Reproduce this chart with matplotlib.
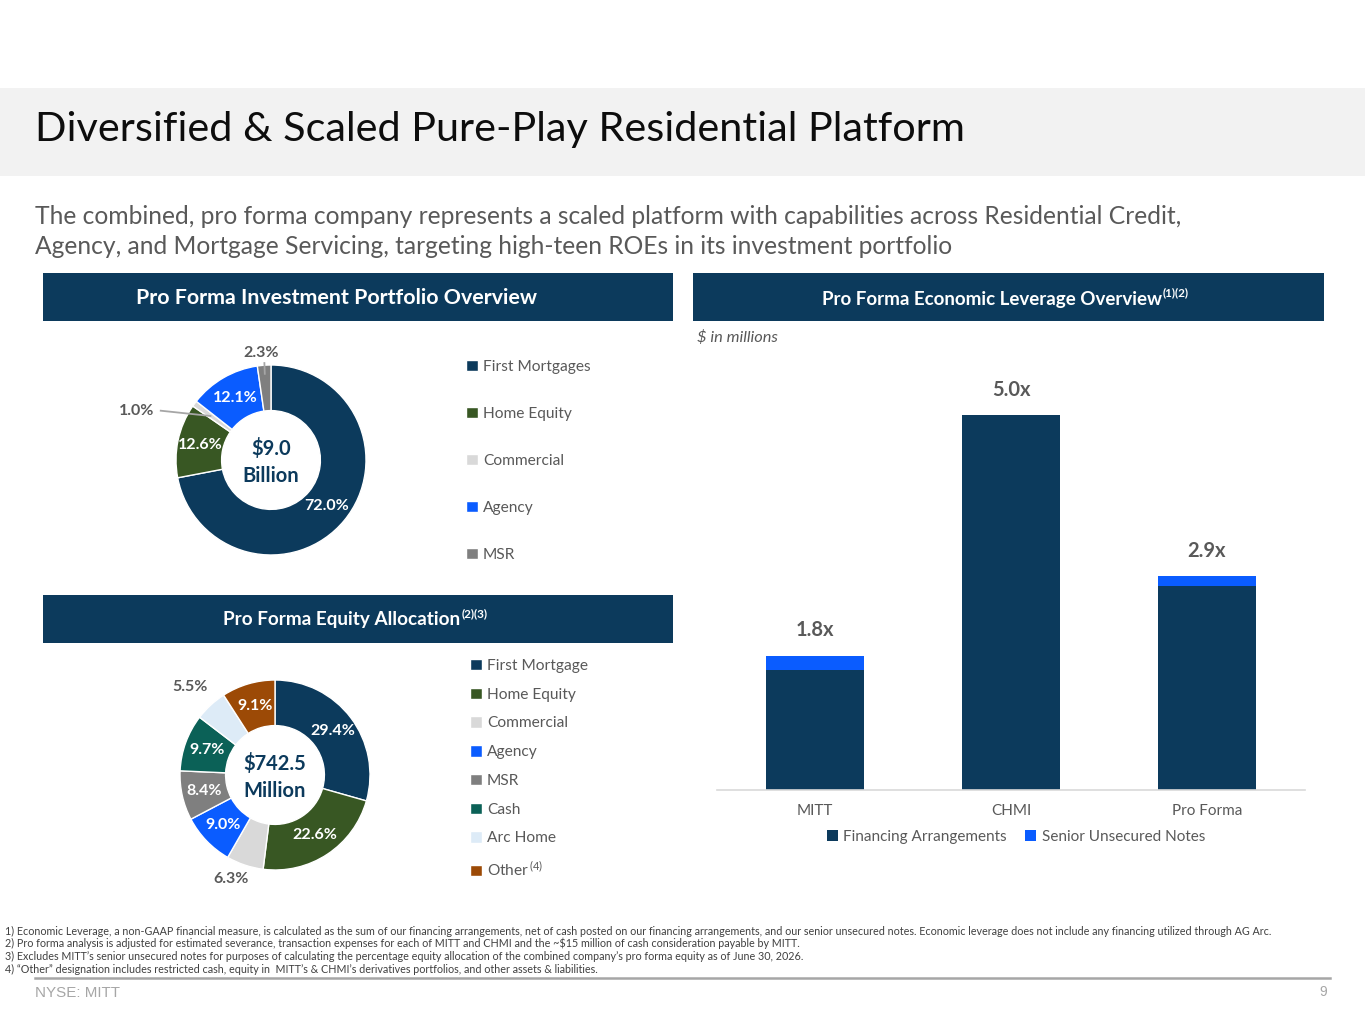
import matplotlib
matplotlib.use('Agg')
import matplotlib.pyplot as plt
from matplotlib.patches import Rectangle
from matplotlib.lines import Line2D
import numpy as np

plt.rcParams['font.family'] = ['Lato', 'DejaVu Sans']
plt.rcParams['mathtext.fontset'] = 'custom'
plt.rcParams['mathtext.rm'] = 'Lato'
plt.rcParams['mathtext.bf'] = 'Lato:bold'
plt.rcParams['mathtext.it'] = 'Lato:italic'

# ---------------- data ----------------
port_cats = ['First Mortgages', 'Home Equity', 'Commercial', 'Agency', 'MSR']
port_vals = [72.0, 12.6, 1.0, 12.1, 2.3]
port_total = '$9.0\nBillion'

eq_cats = ['First Mortgage', 'Home Equity', 'Commercial', 'Agency', 'MSR',
           'Cash', 'Arc Home', 'Other$\\,^{(4)}$']
eq_vals = [29.4, 22.6, 6.3, 9.0, 8.4, 9.7, 5.5, 9.1]
eq_total = '$742.5\nMillion'

lev_cats = ['MITT', 'CHMI', 'Pro Forma']
lev_fin = [1.60, 5.00, 2.72]
lev_notes = [0.19, 0.00, 0.13]
lev_labels = ['1.8x', '5.0x', '2.9x']
lev_series = ['Financing Arrangements', 'Senior Unsecured Notes']

footnotes = [
    "1) Economic Leverage, a non-GAAP financial measure, is calculated as the sum of our financing arrangements, net of cash posted on our financing arrangements, and our senior unsecured notes. Economic leverage does not include any financing utilized through AG Arc.",
    "2) Pro forma analysis is adjusted for estimated severance, transaction expenses for each of MITT and CHMI and the ~$15 million of cash consideration payable by MITT.",
    "3) Excludes MITT\u2019s senior unsecured notes for purposes of calculating the percentage equity allocation of the combined company\u2019s pro forma equity as of June 30, 2026.",
    "4) \u201cOther\u201d designation includes restricted cash, equity in  MITT\u2019s & CHMI\u2019s derivatives portfolios, and other assets & liabilities.",
]

# ---------------- styles ----------------
NAVY = '#0C3A5C'
GREEN = '#385723'
LGRAY = '#D9D9D9'
BLUE = '#0A5CFF'
MGRAY = '#7F7F7F'
TEAL = '#0B6157'
LBLUE = '#DDEBF7'
BROWN = '#9C4A06'
TXT = '#595959'

port_colors = [NAVY, GREEN, LGRAY, BLUE, MGRAY]
eq_colors = [NAVY, GREEN, LGRAY, BLUE, MGRAY, TEAL, LBLUE, BROWN]

W, H = 1365, 1024
fig = plt.figure(figsize=(W / 100, H / 100), dpi=100)
fig.patch.set_facecolor('white')
REND = fig.canvas.get_renderer()


def fx(x):
    return x / W


def fy(y):
    return 1 - y / H


def rect(x0, y0, x1, y1, color):
    fig.patches.append(Rectangle((fx(x0), fy(y1)), (x1 - x0) / W, (y1 - y0) / H,
                                 transform=fig.transFigure, facecolor=color,
                                 edgecolor='none', zorder=0))


def text(x, y, s, size, width=None, **kw):
    kw.setdefault('va', 'center')
    t = fig.text(fx(x), fy(y), s, fontsize=size, **kw)
    if width:
        bb = t.get_window_extent(REND)
        t.set_fontsize(size * width / bb.width)
    return t


def sup_after(t, y, s):
    bb = t.get_window_extent(REND)
    return text(bb.x1 + 1, y, s, t.get_fontsize() * 0.62, color='white',
                fontweight='bold', ha='left')


# ---------------- title band ----------------
rect(0, 88, W, 176, '#F2F2F2')
text(35, 129, 'Diversified & Scaled Pure-Play Residential Platform', 27, width=930,
     color='#0D0D0D', ha='left')

s1 = text(35, 217, 'The combined, pro forma company represents a scaled platform with capabilities across Residential Credit,',
          17, width=1147, color=TXT, ha='left')
text(35, 247, 'Agency, and Mortgage Servicing, targeting high-teen ROEs in its investment portfolio',
     s1.get_fontsize(), color=TXT, ha='left')

# ---------------- section headers ----------------
rect(43, 273, 673, 321, NAVY)
text(336, 298, 'Pro Forma Investment Portfolio Overview', 13, width=400,
     color='white', fontweight='bold', ha='center')
rect(693, 273, 1324, 321, NAVY)
h2 = text(822, 299, 'Pro Forma Economic Leverage Overview', 13, width=340,
          color='white', fontweight='bold', ha='left')
sup_after(h2, 293, '(1)(2)')
rect(43, 595, 673, 643, NAVY)
h3 = text(223, 620, 'Pro Forma Equity Allocation', 13, width=237,
          color='white', fontweight='bold', ha='left')
sup_after(h3, 614, '(2)(3)')

text(697, 337, '$ in millions', 11, width=81, color=TXT, style='italic', ha='left')


# ---------------- donuts ----------------
def donut(cx, cy, Rpx, vals, colors, total, outside, fs_lab=11.5, fs_tot=14.5):
    half = Rpx * 1.05
    ax = fig.add_axes([fx(cx - half), fy(cy + half), 2 * half / W, 2 * half / H])
    wedges, _ = ax.pie(vals, colors=colors, startangle=90, counterclock=False, radius=1,
                       wedgeprops=dict(width=0.48, edgecolor='white', linewidth=1.0))
    ax.set_xlim(-half / Rpx, half / Rpx)
    ax.set_ylim(-half / Rpx, half / Rpx)
    ax.axis('off')
    for i, (w, v) in enumerate(zip(wedges, vals)):
        ang = np.deg2rad((w.theta1 + w.theta2) / 2)
        lab = f'{v:.1f}%'
        if i in outside:
            lx, ly, lead = outside[i]
            ax.text(lx, ly, lab, ha='center', va='center', fontsize=fs_lab,
                    fontweight='bold', color=TXT, zorder=5)
            if lead is not None:
                sx, sy, rr = lead
                ax.plot([lx + sx, rr * np.cos(ang)], [ly + sy, rr * np.sin(ang)],
                        color='#A6A6A6', lw=1.3, clip_on=False, zorder=4,
                        solid_capstyle='butt')
        else:
            ax.text(0.76 * np.cos(ang), 0.76 * np.sin(ang), lab, ha='center', va='center',
                    fontsize=fs_lab, fontweight='bold', color='white')
    ax.text(0, -0.02, total, ha='center', va='center', fontsize=fs_tot, fontweight='bold',
            color=NAVY, linespacing=1.45)
    return ax, wedges


ax1, w1 = donut(271, 460, 95, port_vals, port_colors, port_total,
                {2: (-1.41, 0.52, (0.24, 0.0, 0.78)), 4: (-0.10, 1.13, (0.03, -0.10, 0.90))})
ax2, w2 = donut(275, 775, 95, eq_vals, eq_colors, eq_total,
                {2: (-0.46, -1.09, None), 6: (-0.89, 0.93, None)})


def vlegend(handles, labels, x_text, y_first, pitch, fs):
    def make(spacing, anchor):
        return fig.legend(handles, labels, loc='upper left', bbox_to_anchor=anchor,
                          frameon=False, fontsize=fs, handlelength=0.75, handleheight=0.75,
                          handletextpad=0.35, labelspacing=spacing, borderpad=0,
                          borderaxespad=0, labelcolor=TXT)
    leg = make(1.0, (0.3, 0.5))
    fig.canvas.draw()
    t = leg.get_texts()
    b0 = t[0].get_window_extent(REND)
    b1 = t[-1].get_window_extent(REND)
    cur = (b0.y0 - b1.y0) / (len(t) - 1)
    fs_px = fs * 100 / 72
    sp = 1.0 + (pitch - cur) / fs_px
    leg.remove()
    leg = make(sp, (0.3, 0.5))
    fig.canvas.draw()
    b0 = leg.get_texts()[0].get_window_extent(REND)
    dx = x_text - b0.x0
    dy = (H - y_first) - (b0.y0 + b0.y1) / 2
    leg.remove()
    leg = make(sp, (0.3 + dx / W, 0.5 + dy / H))
    return leg


vlegend(w1, port_cats, 483, 367, 47, 11.2)
vlegend(w2, eq_cats, 487, 666, 29.4, 11.2)

# ---------------- bar chart ----------------
BASE = 790
PXU = 75.0
axb = fig.add_axes([fx(717), fy(BASE), 588 / W, (BASE - 340) / H])
x = np.arange(len(lev_cats))
b1 = axb.bar(x, lev_fin, width=0.5, color=NAVY, label=lev_series[0])
b2 = axb.bar(x, lev_notes, width=0.5, bottom=lev_fin, color=BLUE, label=lev_series[1])
axb.set_xlim(-0.5, 2.5)
axb.set_ylim(0, (BASE - 340) / PXU)
for sp in ['top', 'right', 'left']:
    axb.spines[sp].set_visible(False)
axb.spines['bottom'].set_color(LGRAY)
axb.spines['bottom'].set_linewidth(1.2)
axb.set_yticks([])
axb.set_xticks(x)
axb.set_xticklabels(lev_cats, fontsize=11, color=TXT)
axb.tick_params(axis='x', length=0, pad=10)
axb.set_facecolor('none')
for i, lab in enumerate(lev_labels):
    axb.annotate(lab, xy=(i, lev_fin[i] + lev_notes[i]), xytext=(0, 11),
                 textcoords='offset points', ha='center', va='bottom',
                 fontsize=14.5, fontweight='bold', color=TXT)
fig.legend([b1, b2], lev_series, loc='center', bbox_to_anchor=(fx(1016), fy(837)), ncol=2,
           frameon=False, fontsize=11, handlelength=0.72, handleheight=0.72,
           handletextpad=0.35, columnspacing=1.2, labelcolor=TXT)

# ---------------- footnotes & footer ----------------
fn0 = text(5, 931, footnotes[0], 7, width=1268, color='#404040', ha='left',
           family=['Liberation Sans Narrow', 'Lato'])
for i, s in enumerate(footnotes[1:], start=1):
    text(5, 931 + 12.7 * i, s, fn0.get_fontsize(), color='#404040', ha='left',
         family=['Liberation Sans Narrow', 'Lato'])

fig.add_artist(Line2D([fx(35), fx(1330)], [fy(978), fy(978)], transform=fig.transFigure,
                      color='#A6A6A6', lw=1.8))
text(35, 993, 'NYSE: MITT', 10, width=85, color='#A6A6A6', ha='left',
     family=['Liberation Sans', 'DejaVu Sans'])
text(1323, 992, '9', 10, color='#A6A6A6', ha='center', family=['Liberation Sans', 'DejaVu Sans'])

fig.savefig('out.png', dpi=100, facecolor='white')
